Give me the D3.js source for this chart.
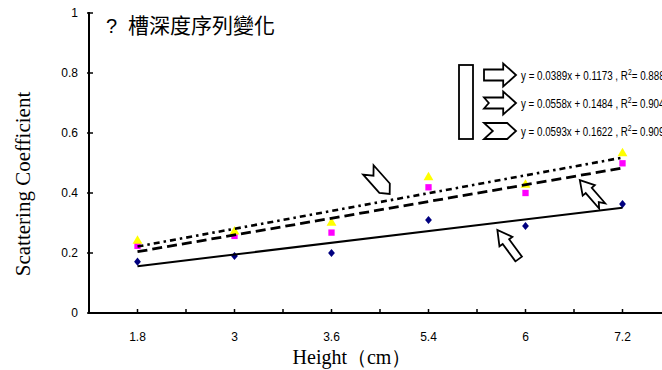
<!DOCTYPE html>
<html>
<head>
<meta charset="utf-8">
<script src="https://cdn.jsdelivr.net/npm/d3@7/dist/d3.min.js"></script>
<style>
  html, body { margin: 0; padding: 0; background: #fff; }
  svg { display: block; }
</style>
</head>
<body>
<svg id="chart" width="662" height="370"></svg>
<script>
// Heights (cm) on the category axis
const heights = ["1.8", "3", "3.6", "5.4", "6", "7.2"];

// Measured scattering coefficients, one array per groove-depth series
const seriesA = [0.171, 0.190, 0.200, 0.310, 0.290, 0.363];
const seriesB = [0.224, 0.257, 0.268, 0.419, 0.400, 0.499];
const seriesC = [0.240, 0.271, 0.300, 0.452, 0.427, 0.532];

// Linear trendline fits (x = category index 1..6)
const slopes     = [0.0389, 0.0558, 0.0593];
const intercepts = [0.1173, 0.1484, 0.1622];
const rSquared   = ["0.8887", "0.9044", "0.9096"];

const yTicks = [0, 0.2, 0.4, 0.6, 0.8, 1];

// Callout arrows: tip and tail in (category index, coefficient)
const callouts = [
  { shape: "chevron", tail: [3.38, 0.477], tip: [3.60, 0.397] },
  { shape: "block",   tail: [4.93, 0.180], tip: [4.71, 0.277] },
  { shape: "notched", tail: [5.79, 0.357], tip: [5.56, 0.443] }
];

const svg = d3.select("#chart");

const plotLeft = 89, plotTop = 13, plotBottom = 313, band = 97;
const x = d3.scaleBand().domain(heights).range([plotLeft, plotLeft + band * heights.length]).padding(0);
const xi = d3.scaleLinear().domain([0.5, heights.length + 0.5]).range(x.range());
const y = d3.scaleLinear().domain([0, 1]).range([plotBottom, plotTop]);

const sans = "'Liberation Sans', Arial, sans-serif";
const serif = "'Liberation Serif', 'Times New Roman', serif";

// Axes
svg.append("line").attr("x1", plotLeft).attr("x2", 662).attr("y1", plotBottom).attr("y2", plotBottom)
  .attr("stroke", "#000").attr("stroke-width", 2);
svg.append("line").attr("x1", plotLeft).attr("x2", plotLeft).attr("y1", y(1) - 1).attr("y2", plotBottom + 1)
  .attr("stroke", "#000").attr("stroke-width", 2);

// x ticks at category centres and boundaries
const xTickPos = d3.range(0, heights.length * 2 + 1).map(k => plotLeft + k * band / 2).filter(v => v > plotLeft);
svg.selectAll(".xt").data(xTickPos).join("line")
  .attr("x1", d => d).attr("x2", d => d).attr("y1", plotBottom).attr("y2", plotBottom - 4)
  .attr("stroke", "#000").attr("stroke-width", 1.5);

svg.selectAll(".xl").data(heights).join("text")
  .attr("x", d => x(d) + x.bandwidth() / 2).attr("y", 341)
  .attr("text-anchor", "middle").attr("font-family", sans).attr("font-size", 12)
  .text(d => d);

svg.selectAll(".yt").data(yTicks).join("line")
  .attr("x1", plotLeft - 2).attr("x2", plotLeft + 4).attr("y1", d => y(d)).attr("y2", d => y(d))
  .attr("stroke", "#000").attr("stroke-width", 1.5);

svg.selectAll(".yl").data(yTicks).join("text")
  .attr("x", 78).attr("y", d => y(d) + 4)
  .attr("text-anchor", "end").attr("font-family", sans).attr("font-size", 12)
  .text(d => d3.format("~g")(d));

// Axis titles
svg.append("text").attr("x", 352).attr("y", 364).attr("text-anchor", "middle")
  .attr("font-family", serif).attr("font-size", 20).text("Height（cm）");
svg.append("text").attr("transform", "translate(30,184) rotate(-90)").attr("text-anchor", "middle")
  .attr("font-family", serif).attr("font-size", 21).text("Scattering Coefficient");

// Title
const title = svg.append("text").attr("y", 33);
title.append("tspan").attr("x", 106).attr("font-family", sans).attr("font-size", 20).text("?");
title.append("tspan").attr("x", 128).attr("font-family", "'Noto Sans CJK TC', sans-serif")
  .attr("font-size", 21).text("槽深度序列變化");

// Markers
const cx = d => x(d) + x.bandwidth() / 2;
const diamond = d3.symbol().type(d3.symbolDiamond).size(30);
const square = d3.symbol().type(d3.symbolSquare).size(40);
const triangle = d3.symbol().type(d3.symbolTriangle).size(42);

svg.selectAll(".mA").data(seriesA).join("path")
  .attr("d", diamond).attr("fill", "#000080")
  .attr("transform", (d, i) => `translate(${cx(heights[i])},${y(d)}) scale(1.15,0.8)`);
svg.selectAll(".mB").data(seriesB).join("path")
  .attr("d", square).attr("fill", "#ff00ff")
  .attr("transform", (d, i) => `translate(${cx(heights[i])},${y(d)})`);
svg.selectAll(".mC").data(seriesC).join("path")
  .attr("d", triangle).attr("fill", "#ffff00")
  .attr("transform", (d, i) => `translate(${cx(heights[i])},${y(d)})`);

// Trendlines
const dashes = [null, "10,5", "6,4,2.5,4"];
const widths = [2, 2.8, 2.6];
slopes.forEach((m, k) => {
  const b = intercepts[k];
  svg.append("line")
    .attr("x1", xi(1)).attr("y1", y(m * 1 + b))
    .attr("x2", xi(heights.length)).attr("y2", y(m * heights.length + b))
    .attr("stroke", "#000").attr("stroke-width", widths[k])
    .attr("stroke-dasharray", dashes[k]);
});

// Arrow outlines, local frame: tail at (0,0), pointing along +x, length L
function arrowPoints(shape, L, hw, sw) {
  const hs = L * 0.6;
  if (shape === "block")
    return [[0, -sw], [hs, -sw], [hs, -hw], [L, 0], [hs, hw], [hs, sw], [0, sw]];
  if (shape === "notched")
    return [[0, -sw], [hs, -sw], [hs, -hw], [L, 0], [hs, hw], [hs, sw], [0, sw], [L * 0.15, 0]];
  // chevron
  return [[0, -hw], [L - hw * 1.1, -hw], [L, 0], [L - hw * 1.1, hw], [0, hw], [hw * 1.1, 0]];
}
const outline = d3.line().curve(d3.curveLinearClosed);

function drawArrow(shape, px, py, angle, L, hw, sw) {
  svg.append("path")
    .attr("d", outline(arrowPoints(shape, L, hw, sw)))
    .attr("transform", `translate(${px},${py}) rotate(${angle})`)
    .attr("fill", "#fff").attr("stroke", "#000").attr("stroke-width", 1.8)
    .attr("stroke-linejoin", "miter");
}

callouts.forEach(c => {
  const x0 = xi(c.tail[0]), y0 = y(c.tail[1]);
  const x1 = xi(c.tip[0]), y1 = y(c.tip[1]);
  const L = Math.hypot(x1 - x0, y1 - y0);
  const ang = Math.atan2(y1 - y0, x1 - x0) * 180 / Math.PI;
  if (c.shape === "chevron") drawArrow("chevron", x0, y0, ang, L, 7, 0);
  else drawArrow(c.shape, x0, y0, ang, L, 8, 4);
});

// Legend: bracket box, arrow keys and fitted equations
svg.append("rect").attr("x", 459).attr("y", 65).attr("width", 14).attr("height", 74)
  .attr("fill", "#fff").attr("stroke", "#000").attr("stroke-width", 1.8);

const legendShapes = ["block", "notched", "chevron"];
const legendRows = [75, 103, 131];
legendShapes.forEach((s, k) => {
  if (s === "chevron") drawArrow(s, 484, legendRows[k], 0, 32, 8, 0);
  else drawArrow(s, 484, legendRows[k], 0, 32, 11.5, 5.5);

  const leadText = `y = ${slopes[k].toFixed(4)}x + ${intercepts[k].toFixed(4)} , R`;

  // measure the lead part alone, then narrow the run to the legend's condensed width
  const probe = svg.append("text").attr("font-family", sans).attr("font-size", 13).text(leadText);
  const w = probe.node().getBBox().width;
  probe.remove();

  const t = svg.append("text")
    .attr("font-family", sans).attr("font-size", 13)
    .attr("transform", `translate(521,${legendRows[k] + 5}) scale(${107 / w},1)`);
  t.append("tspan").text(leadText);
  t.append("tspan").attr("dy", -5).attr("font-size", 9).text("2");
  t.append("tspan").attr("dy", 5).text(`= ${rSquared[k]}`);
});
</script>
</body>
</html>
